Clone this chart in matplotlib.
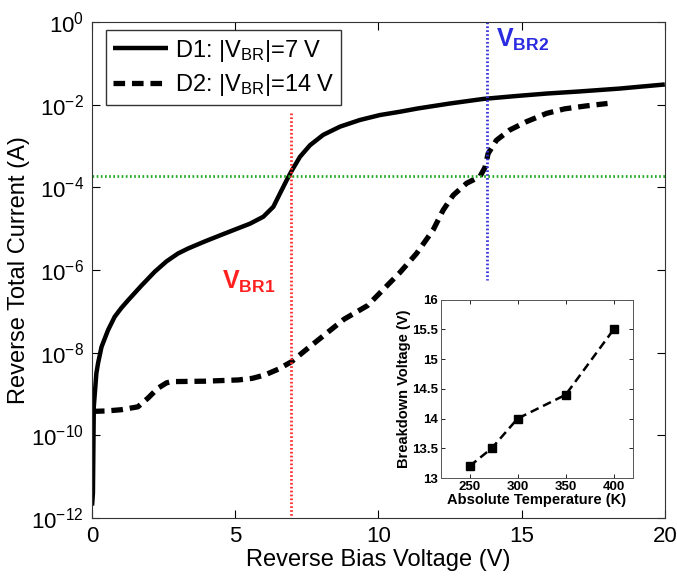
import numpy as np
import matplotlib
matplotlib.use("Agg")
import matplotlib.pyplot as plt

plt.rcParams['font.family'] = ['Liberation Sans', 'DejaVu Sans']
plt.rcParams['mathtext.fontset'] = 'custom'
plt.rcParams['mathtext.rm'] = 'Liberation Sans'
plt.rcParams['mathtext.it'] = 'Liberation Sans:italic'
plt.rcParams['mathtext.bf'] = 'Liberation Sans:bold'

# D1 (solid): voltage and log10(current)
d1_v = [0.0, 0.03, 0.06, 0.15, 0.21, 0.33, 0.56, 0.79, 1.02, 1.26, 1.72, 2.19, 2.60, 3.00,
        3.35, 3.93, 4.51, 5.10, 5.51, 5.98, 6.33, 6.56, 6.80, 6.97, 7.26, 7.61, 8.07, 8.66,
        9.35, 10.05, 10.75, 11.38, 12.50, 13.66, 14.80, 15.87, 17.00, 18.41, 19.20, 20.0]
d1_log = [-11.7, -11.4, -9.31, -8.50, -8.25, -7.86, -7.45, -7.13, -6.92, -6.73, -6.38, -6.04,
          -5.79, -5.60, -5.48, -5.31, -5.15, -4.99, -4.88, -4.71, -4.47, -4.15, -3.82, -3.60,
          -3.26, -2.98, -2.73, -2.53, -2.37, -2.25, -2.17, -2.09, -1.97, -1.86, -1.79, -1.73,
          -1.68, -1.61, -1.56, -1.51]

# D2 (dashed)
d2_v = [0.03, 0.50, 1.02, 1.60, 1.95, 2.30, 2.60, 2.77, 3.93, 5.10, 5.60, 6.03, 6.50, 6.96,
        7.54, 8.80, 9.62, 10.75, 11.33, 11.91, 12.26, 12.61, 13.08, 13.54, 13.72, 13.83,
        14.12, 14.59, 15.17, 15.87, 16.50, 17.24, 18.0]
d2_log = [-9.42, -9.41, -9.38, -9.31, -9.10, -8.86, -8.73, -8.70, -8.69, -8.66, -8.62, -8.54,
          -8.40, -8.22, -7.89, -7.19, -6.86, -6.06, -5.60, -5.03, -4.55, -4.19, -3.90, -3.74,
          -3.52, -3.18, -2.86, -2.61, -2.41, -2.21, -2.10, -2.03, -1.97]

# Inset: breakdown voltage vs temperature
temp_k = [250, 273, 300, 350, 400]
vbr = [13.2, 13.5, 14.0, 14.4, 15.5]

vbr1 = 6.95
vbr2 = 13.78
i_ref = 10 ** -3.73

fig = plt.figure(figsize=(6.77, 5.76), dpi=100)
ax = fig.add_axes([0.136, 0.1007, 0.846, 0.861])

ax.plot(d1_v, 10 ** np.array(d1_log), color='black', lw=3.2, solid_capstyle='butt',
        solid_joinstyle='round', label=r'D1: |V$_{\mathrm{BR}}$|=7 V')
ax.plot(d2_v, 10 ** np.array(d2_log), color='black', lw=3.8, dashes=(2.2, 1.3),
        dash_joinstyle='round', label=r'D2: |V$_{\mathrm{BR}}$|=14 V')

ax.plot([vbr1, vbr1], [10 ** -2.2, 1e-12], color='#ff2a2a', lw=2, ls=(0, (0.6, 0.8)))
ax.plot([vbr2, vbr2], [1, 10 ** -6.25], color='#3333dd', lw=2, ls=(0, (0.6, 0.8)))
ax.axhline(i_ref, color='#22aa22', lw=2, ls=(0, (0.6, 0.9)))

ax.text(4.55, 10 ** -6.45, r'$\mathbf{V_{BR1}}$', color='#ff2020', fontsize=18)
ax.text(14.1, 10 ** -0.6, r'$\mathbf{V_{BR2}}$', color='#2a2ae0', fontsize=18)

ax.set_yscale('log')
ax.set_xlim(0, 20)
ax.set_ylim(1e-12, 1)
ax.set_xticks([0, 5, 10, 15, 20])
ax.set_yticks([10.0 ** k for k in range(-12, 1, 2)])
ax.minorticks_off()
ax.tick_params(direction='in', top=True, right=True, labelsize=16, length=6, width=0.8,
               pad=6)
for s in ax.spines.values():
    s.set_linewidth(0.8)
    s.set_color('#333333')
ax.set_xlabel('Reverse Bias Voltage (V)', fontsize=17, labelpad=1)
ax.set_ylabel('Reverse Total Current (A)', fontsize=17, labelpad=1)

leg = ax.legend(loc='upper left', bbox_to_anchor=(0.025, 0.983), fontsize=17,
                frameon=True, fancybox=False, handlelength=2.3, handletextpad=0.3,
                borderpad=0.3, labelspacing=0.35, borderaxespad=0)
leg.get_frame().set_edgecolor('black')
leg.get_frame().set_linewidth(1.0)

ins = fig.add_axes([0.651, 0.170, 0.284, 0.31])
ins.plot(temp_k, vbr, color='black', lw=1.8, ls=(0, (3.5, 2)), marker='s', ms=6)
ins.set_xlim(220, 420)
ins.set_ylim(13, 16)
ins.set_xticks([250, 300, 350, 400])
ins.set_yticks([13, 13.5, 14, 14.5, 15, 15.5, 16])
ins.set_yticklabels(['13', '13.5', '14', '14.5', '15', '15.5', '16'])
ins.tick_params(direction='in', top=True, right=True, labelsize=9.5, length=3, width=0.6,
                pad=2)
for lab in ins.get_xticklabels() + ins.get_yticklabels():
    lab.set_fontweight('bold')
for s in ins.spines.values():
    s.set_linewidth(0.7)
    s.set_color('#555555')
ins.set_xlabel('Absolute Temperature (K)', fontsize=10.5, fontweight='bold', labelpad=0)
ins.set_ylabel('Breakdown Voltage (V)', fontsize=10.5, fontweight='bold', labelpad=1)

fig.savefig('out.png', dpi=100)
